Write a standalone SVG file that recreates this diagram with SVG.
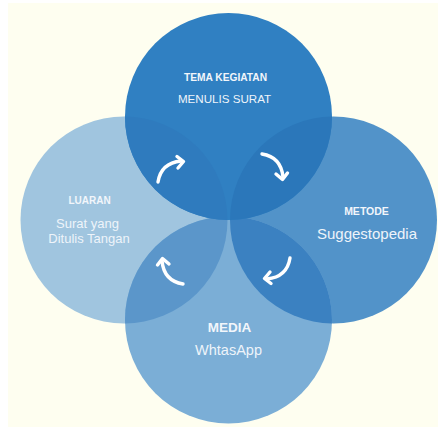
<svg xmlns="http://www.w3.org/2000/svg" xmlns:xlink="http://www.w3.org/1999/xlink" width="438" height="427" viewBox="0 0 438 427">
  <style>
    .bold { font-family: "Liberation Sans", Arial, sans-serif; font-weight: bold; fill: #F2F6FB; text-anchor: middle; }
    .reg { font-family: "Liberation Sans", Arial, sans-serif; fill: #EEF4FA; text-anchor: middle; }
    .arr { fill: none; stroke: #FFFFFF; stroke-width: 3.4; stroke-linecap: round; stroke-linejoin: round; }
  </style>
  <defs>
    <clipPath id="cTop"><circle cx="228.5" cy="116.5" r="103.5"/></clipPath>
    <clipPath id="cLeft"><circle cx="124" cy="220" r="103.5"/></clipPath>
    <clipPath id="cRight"><circle cx="333.5" cy="220" r="103.5"/></clipPath>
    <clipPath id="cBottom"><circle cx="228.5" cy="320" r="103.5"/></clipPath>
    <g id="arrow">
      <path class="arr" d="M158,182 Q161,163 181,161"/>
      <path class="arr" d="M177,156.5 L183.5,161.5 L178,168"/>
    </g>
  </defs>
  <rect x="0" y="0" width="438" height="427" fill="#FFFFFF"/>
  <rect x="8" y="3" width="430" height="424" fill="#FEFEF0"/>

  <g id="luaran">
    <circle cx="124" cy="220" r="103.5" fill="#A0C5DF"/>
  </g>
  <g id="metode">
    <circle cx="333.5" cy="220" r="103.5" fill="#5293C9"/>
  </g>
  <g id="media">
    <circle cx="228.5" cy="320" r="103.5" fill="#7BAED6"/>
    <circle cx="124" cy="220" r="103.5" fill="#5B96CA" clip-path="url(#cBottom)"/>
    <circle cx="333.5" cy="220" r="103.5" fill="#3B81C1" clip-path="url(#cBottom)"/>
  </g>
  <g id="tema">
    <circle cx="228.5" cy="116.5" r="103.5" fill="#3080C2"/>
    <circle cx="124" cy="220" r="103.5" fill="#2F7BBE" clip-path="url(#cTop)"/>
    <circle cx="333.5" cy="220" r="103.5" fill="#2B77BA" clip-path="url(#cTop)"/>
  </g>

  <g id="labels">
    <text class="bold" x="225.5" y="81" font-size="10.2">TEMA KEGIATAN</text>
    <text class="reg" x="224.5" y="103" font-size="11.6">MENULIS SURAT</text>
    <text class="bold" x="89.5" y="203.5" font-size="10">LUARAN</text>
    <text class="reg" x="87.5" y="227.5" font-size="13">Surat yang</text>
    <text class="reg" x="89" y="243" font-size="13">Ditulis Tangan</text>
    <text class="bold" x="366.5" y="214.5" font-size="10.5">METODE</text>
    <text class="reg" x="367" y="238.5" font-size="15">Suggestopedia</text>
    <text class="bold" x="229.5" y="331.5" font-size="13.5">MEDIA</text>
    <text class="reg" x="228.5" y="355" font-size="14.5">WhtasApp</text>
  </g>

  <g id="connectors">
    <use xlink:href="#arrow" href="#arrow"/>
    <use xlink:href="#arrow" href="#arrow" transform="rotate(90 224 220)"/>
    <use xlink:href="#arrow" href="#arrow" transform="rotate(180 224 220)"/>
    <use xlink:href="#arrow" href="#arrow" transform="translate(-3 -2) rotate(270 224 220)"/>
  </g>
</svg>
